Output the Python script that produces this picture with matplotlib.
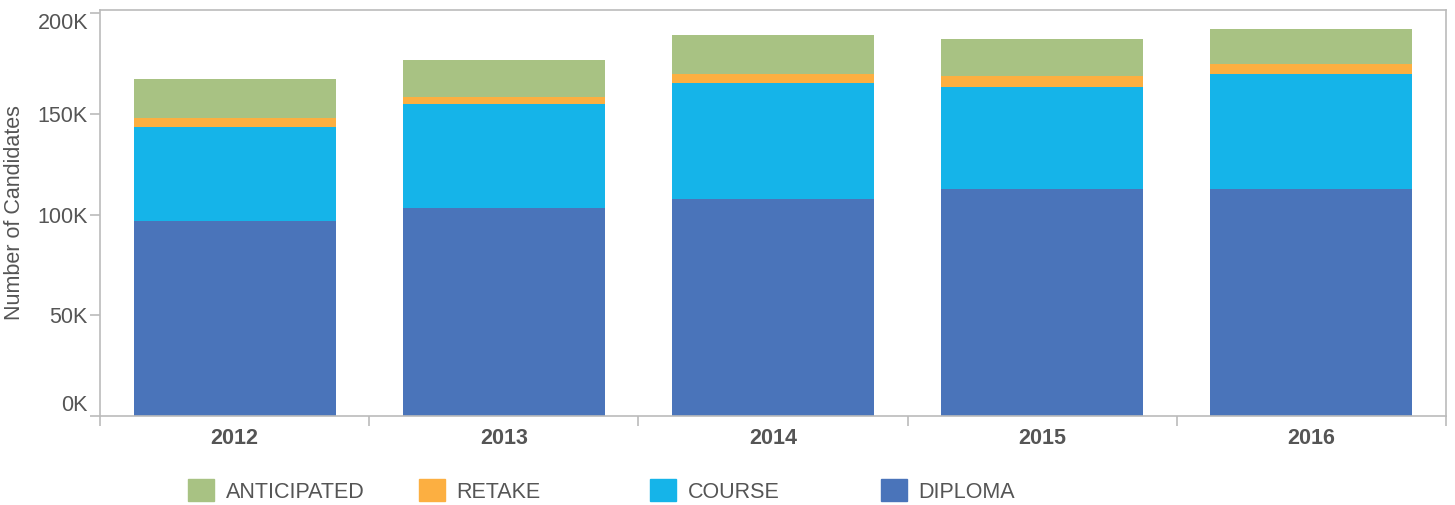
import numpy as np
import matplotlib.pyplot as plt
from matplotlib.patches import Patch
from matplotlib.ticker import FuncFormatter

years = ['2012', '2013', '2014', '2015', '2016']
diploma = [96800, 103300, 107700, 112700, 112700]
course = [46700, 51600, 57600, 50600, 57100]
retake = [4500, 3500, 4700, 5700, 5100]
anticipated = [19300, 18400, 19200, 18200, 17200]

series = [('DIPLOMA', diploma, '#4A74BA'),
          ('COURSE', course, '#15B4E9'),
          ('RETAKE', retake, '#FCAF41'),
          ('ANTICIPATED', anticipated, '#A8C283')]

txt = '#555555'
grey = '#BBBBBB'
fs = 15.5
plt.rcParams['font.family'] = ['Liberation Sans', 'DejaVu Sans']

fig = plt.figure(figsize=(14.55, 5.05), dpi=100)
ax = fig.add_axes([100/1455, 1-416/505, 1346/1455, 406/505])

x = np.arange(len(years))
bottom = np.zeros(len(years))
handles = {}
for name, vals, col in series:
    ax.bar(x, vals, 0.75, bottom=bottom, color=col, linewidth=0)
    bottom += np.array(vals)
    handles[name] = Patch(color=col)

ax.set_xlim(-0.5, len(years) - 0.5)
ax.set_ylim(0, 201600)

for s in ax.spines.values():
    s.set_color(grey)
    s.set_linewidth(1.2)

# category separators as major ticks, year labels as minor ticks
ax.set_xticks(np.arange(len(years) + 1) - 0.5)
ax.set_xticklabels([])
ax.tick_params(axis='x', which='major', length=7.2, width=1.2, color=grey)
ax.set_xticks(x, minor=True)
ax.set_xticklabels(years, minor=True, fontsize=fs, fontweight='bold', color=txt)
ax.tick_params(axis='x', which='minor', length=0, pad=9)

ax.set_yticks([0, 50000, 100000, 150000, 200000])
ax.yaxis.set_major_formatter(FuncFormatter(lambda v, p: '%dK' % (v / 1000)))
ax.tick_params(axis='y', length=7.2, width=1.2, color=grey, labelsize=fs,
               labelcolor=txt, pad=1.5)
ylabels = ax.get_yticklabels()
ylabels[0].set_va('bottom')
ylabels[-1].set_va('top')
ax.set_ylabel('Number of Candidates', fontsize=fs, color=txt)
ax.yaxis.set_label_coords(-75/1346, 0.5)

# legend, one fixed slot per entry
legend_order = ['ANTICIPATED', 'RETAKE', 'COURSE', 'DIPLOMA']
for i, name in enumerate(legend_order):
    fig.legend(handles=[handles[name]], labels=[name], loc='center left',
               bbox_to_anchor=((188 + i * 231) / 1455, 1 - 491/505),
               frameon=False, fontsize=fs, labelcolor=txt, borderpad=0,
               borderaxespad=0, handlelength=1.2, handleheight=1.2,
               handletextpad=0.55)

plt.savefig('out.png', dpi=100)
